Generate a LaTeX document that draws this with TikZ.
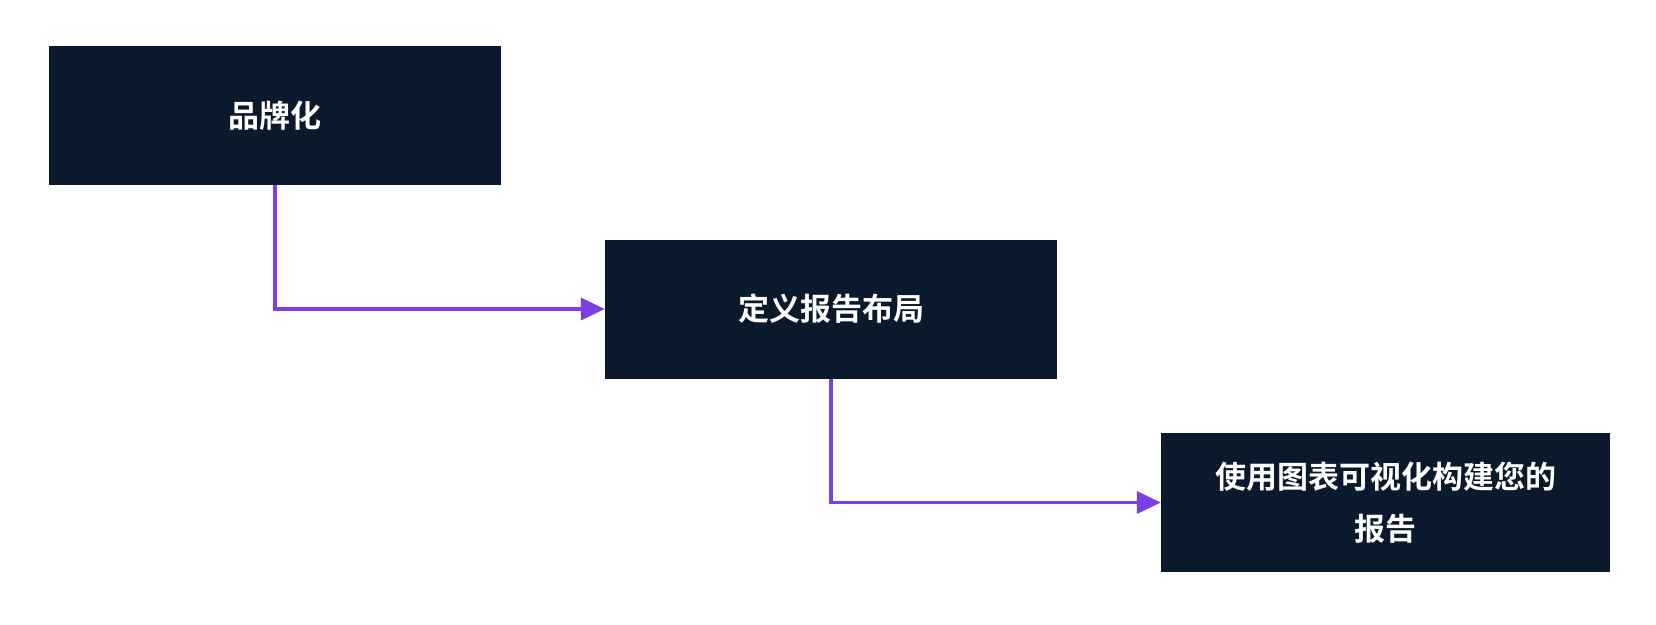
\documentclass[tikz,border=0pt]{standalone}
\usepackage{fontspec}
\setmainfont{Noto Sans CJK SC}[BoldFont={* Bold}]
\usetikzlibrary{arrows.meta}
\definecolor{boxc}{HTML}{0A1A2C}
\definecolor{arr}{HTML}{7B3FE4}
\begin{document}
\begin{tikzpicture}[x=1pt,y=-1pt,
  box/.style={fill=boxc,draw=none,minimum width=452pt,minimum height=139pt,text=white,font=\fontsize{31}{52}\selectfont\bfseries,align=center,inner sep=0pt},
  conn/.style={draw=arr,line width=3.6pt,-{Triangle[length=24pt,width=22pt]}}]
\useasboundingbox[fill=white] (0,0) rectangle (1656,624);
\node[box] (a) at (275,115.5) {品牌化};
\node[box] (b) at (831,309) {定义报告布局};
\node[box,minimum width=449pt,text width=420pt] (c) at (1385.5,502.5) {使用图表可视化构建您的\\报告};
\draw[conn] (a.south) |- (b.west);
\draw[conn] (b.south) |- (c.west);
\end{tikzpicture}
\end{document}
